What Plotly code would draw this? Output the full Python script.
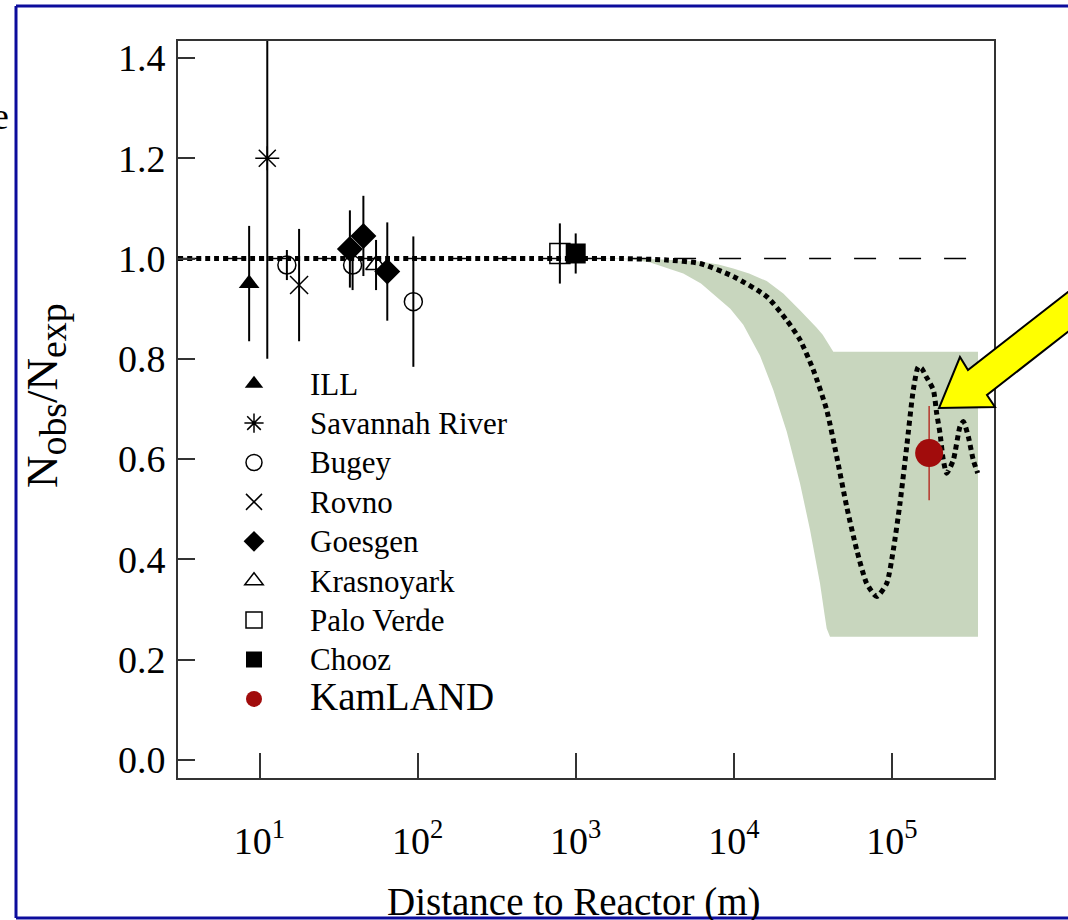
import plotly.graph_objects as go

# ---------------- data ----------------
ill_x = [8.6];    ill_y = [0.95];   ill_err = [0.115]
sav_x = [11.2];   sav_y = [1.20];   sav_err_plus = [0.27]; sav_err_minus = [0.40]
bugey_x = [14.9, 38.8, 94.0]; bugey_y = [0.987, 0.987, 0.914]; bugey_err = [0.03, 0.05, 0.13]
rovno_x = [17.8]; rovno_y = [0.947]; rovno_err = [0.112]
goesgen_x = [37.3, 45.4, 64.3]; goesgen_y = [1.019, 1.045, 0.974]; goesgen_err = [0.077, 0.08, 0.098]
kras_x = [54.6];  kras_y = [0.987]; kras_err = [0.05]
pv_x = [794];     pv_y = [1.01];    pv_err = [0.06]
chooz_x = [1000]; chooz_y = [1.01]; chooz_err = [0.04]
kam_x = [1.72e5]; kam_y = [0.612];  kam_err = [0.094]

# oscillation prediction (dotted curve)
osc_x = [3.05, 796, 1906, 3763, 6113, 9927, 16150, 21610, 26220, 31820, 38690,
         44760, 51780, 59910, 69280, 80150, 92700, 102100, 112500, 124100,
         136600, 146900, 154300, 164300, 182800, 192000, 201600, 211400,
         222200, 244600, 269700, 282900, 304200, 327300, 349000]
osc_y = [1.0, 1.0, 1.0, 0.997, 0.99, 0.964, 0.924, 0.877, 0.838, 0.778, 0.698,
         0.605, 0.505, 0.419, 0.352, 0.326, 0.352, 0.419, 0.512, 0.625,
         0.738, 0.784, 0.781, 0.765, 0.738, 0.691, 0.651, 0.598,
         0.572, 0.598, 0.665, 0.675, 0.645, 0.598, 0.572]

# allowed band (upper edge left->right, lower edge left->right)
band_up_x = [1906, 3500, 6113, 8000, 9927, 12500, 16150, 20560, 26220, 30000,
             33450, 36500, 38690, 40600, 42600, 350400]
band_up_y = [1.0, 0.998, 0.994, 0.988, 0.98, 0.97, 0.955, 0.93, 0.897, 0.878,
             0.862, 0.848, 0.835, 0.822, 0.814, 0.814]
band_lo_x = [1425, 2300, 2964, 4793, 6200, 7797, 9500, 11480, 14650, 17780, 21610,
             26220, 30340, 35110, 37500, 38690, 40600, 350400]
band_lo_y = [1.0, 0.998, 0.992, 0.970, 0.950, 0.924, 0.900, 0.868, 0.806, 0.738,
             0.655, 0.552, 0.459, 0.352, 0.290, 0.262, 0.246, 0.246]

noosc_x = [3.1, 350400]
noosc_y = [1.0, 1.0]

x_tickvals = [10, 100, 1000, 10000, 100000]
x_ticktext = ["10<sup>1</sup>", "10<sup>2</sup>", "10<sup>3</sup>", "10<sup>4</sup>", "10<sup>5</sup>"]
y_tickvals = [0.0, 0.2, 0.4, 0.6, 0.8, 1.0, 1.2, 1.4]

# ---------------- layout geometry ----------------
W, H = 1068, 920
L, R, T, B = 178, 74, 41, 142
PW, PH = W - L - R, H - T - B


def px2paper(px, py):
    return (px - L) / PW, (H - B - py) / PH


FONT = "Liberation Serif"
fig = go.Figure()

band_x = band_up_x + band_lo_x[::-1]
band_y = band_up_y + band_lo_y[::-1]
fig.add_trace(go.Scatter(x=band_x, y=band_y, fill="toself", fillcolor="#c8d6be",
                         line=dict(width=0), mode="lines", showlegend=False,
                         hoverinfo="skip"))
fig.add_trace(go.Scatter(x=noosc_x, y=noosc_y, mode="lines", showlegend=False,
                         line=dict(color="black", width=1.5, dash="22px,23px")))
fig.add_trace(go.Scatter(x=osc_x, y=osc_y, mode="lines", showlegend=False,
                         line=dict(color="black", width=5, dash="5px,4px", shape="spline",
                                   smoothing=0.6)))


def pts(name, x, y, err, symbol, size, filled=True, color="black", lw=1.5,
        errm=None, clip=True, ecolor="black", ew=2):
    ed = dict(type="data", array=err, color=ecolor, thickness=ew, width=0, visible=True)
    if errm is not None:
        ed["symmetric"] = False
        ed["arrayminus"] = errm
    fig.add_trace(go.Scatter(
        x=x, y=y, mode="markers", name=name, error_y=ed, cliponaxis=clip,
        marker=dict(symbol=symbol, size=size, color=color,
                    line=dict(color=color, width=0 if filled else lw))))


def lname(s, size=31):
    return f'<span style="font-size:{size}px">{s}</span>'


pts(lname("ILL"), ill_x, ill_y, ill_err, "triangle-up", 18)
pts(lname("Savannah River"), sav_x, sav_y, sav_err_plus, "asterisk-open", 20,
    filled=False, errm=sav_err_minus, clip=False)
pts(lname("Bugey"), bugey_x, bugey_y, bugey_err, "circle-open", 18, filled=False)
pts(lname("Rovno"), rovno_x, rovno_y, rovno_err, "x-thin-open", 18, filled=False)
pts(lname("Goesgen"), goesgen_x, goesgen_y, goesgen_err, "diamond", 20)
pts(lname("Krasnoyark"), kras_x, kras_y, kras_err, "triangle-up-open", 18, filled=False)
pts(lname("Palo Verde"), pv_x, pv_y, pv_err, "square-open", 20, filled=False)
pts(lname("Chooz"), chooz_x, chooz_y, chooz_err, "square", 20)
pts(lname("KamLAND", 39), kam_x, kam_y, kam_err, "circle", 28,
    color="#a10c0c", ecolor="#b5352a", ew=1.5)

axis_common = dict(showline=True, linecolor="#333333", linewidth=2, mirror=True,
                   showgrid=False, zeroline=False, ticks="inside", tickcolor="#333333",
                   tickwidth=2, tickfont=dict(family=FONT, size=38, color="black"))
fig.update_xaxes(type="log", range=[0.4845, 5.6458], tickvals=x_tickvals,
                 ticktext=x_ticktext, ticklen=25, ticklabelstandoff=28, **axis_common)
fig.update_yaxes(range=[-0.0359, 1.4337], tickvals=y_tickvals, tickformat=".1f",
                 ticklen=17, ticklabelstandoff=3, **axis_common)

# axis titles
tx, ty = px2paper(574, 902)
ax_, ay_ = px2paper(45, 396)
ex, ey = px2paper(11, 116)
fig.add_annotation(x=tx, y=ty, xref="paper", yref="paper", showarrow=False,
                   text="Distance to Reactor (m)", xanchor="center", yanchor="middle",
                   font=dict(family=FONT, size=39, color="black"))
fig.add_annotation(x=ax_, y=ay_, xref="paper", yref="paper", showarrow=False,
                   text='N<sub><span style="font-size:120%">obs</span></sub>/'
                        'N<sub><span style="font-size:120%">exp</span></sub>',
                   textangle=-90, xanchor="center", yanchor="middle",
                   font=dict(family=FONT, size=45, color="black"))
fig.add_annotation(x=ex, y=ey, xref="paper", yref="paper", showarrow=False,
                   text="e", xanchor="right", yanchor="middle",
                   font=dict(family=FONT, size=38, color="black"))

# yellow arrow (decoration) defined in pixels
arrow_px = [(939, 408), (960, 357), (968, 370), (1086, 278), (1105, 303),
            (987, 395), (995, 407)]
pp = [px2paper(a, b) for a, b in arrow_px]
path = "M " + " L ".join(f"{a:.4f},{b:.4f}" for a, b in pp) + " Z"
fig.add_shape(type="path", path=path, xref="paper", yref="paper",
              fillcolor="#ffff00", line=dict(color="black", width=2), layer="above")

# blue frame: left, top and bottom edges (right edge lies outside the picture)
fx0, fy0 = px2paper(16, 918)
fx1, fy1 = px2paper(1068, 6)
frame = dict(xref="paper", yref="paper", line=dict(color="#0c0c9c", width=3), layer="above")
fig.add_shape(type="line", x0=fx0, y0=fy0, x1=fx0, y1=fy1, **frame)
fig.add_shape(type="line", x0=fx0, y0=fy1, x1=fx1, y1=fy1, **frame)
fig.add_shape(type="line", x0=fx0, y0=fy0, x1=fx1, y1=fy0, **frame)

lx, ly = px2paper(198, 359)
fig.update_layout(
    width=W, height=H, margin=dict(l=L, r=R, t=T, b=B, autoexpand=False),
    paper_bgcolor="white", plot_bgcolor="white",
    font=dict(family=FONT, color="black"),
    legend=dict(x=lx, y=ly, xanchor="left", yanchor="top", bgcolor="rgba(0,0,0,0)",
                borderwidth=0, font=dict(family=FONT, size=28, color="black"),
                itemwidth=102, tracegroupgap=0),
    showlegend=True,
)

fig.write_html("out.html", config={"displayModeBar": False},
               post_script="document.body.style.margin='0';"
                           "document.body.style.overflow='hidden';")
